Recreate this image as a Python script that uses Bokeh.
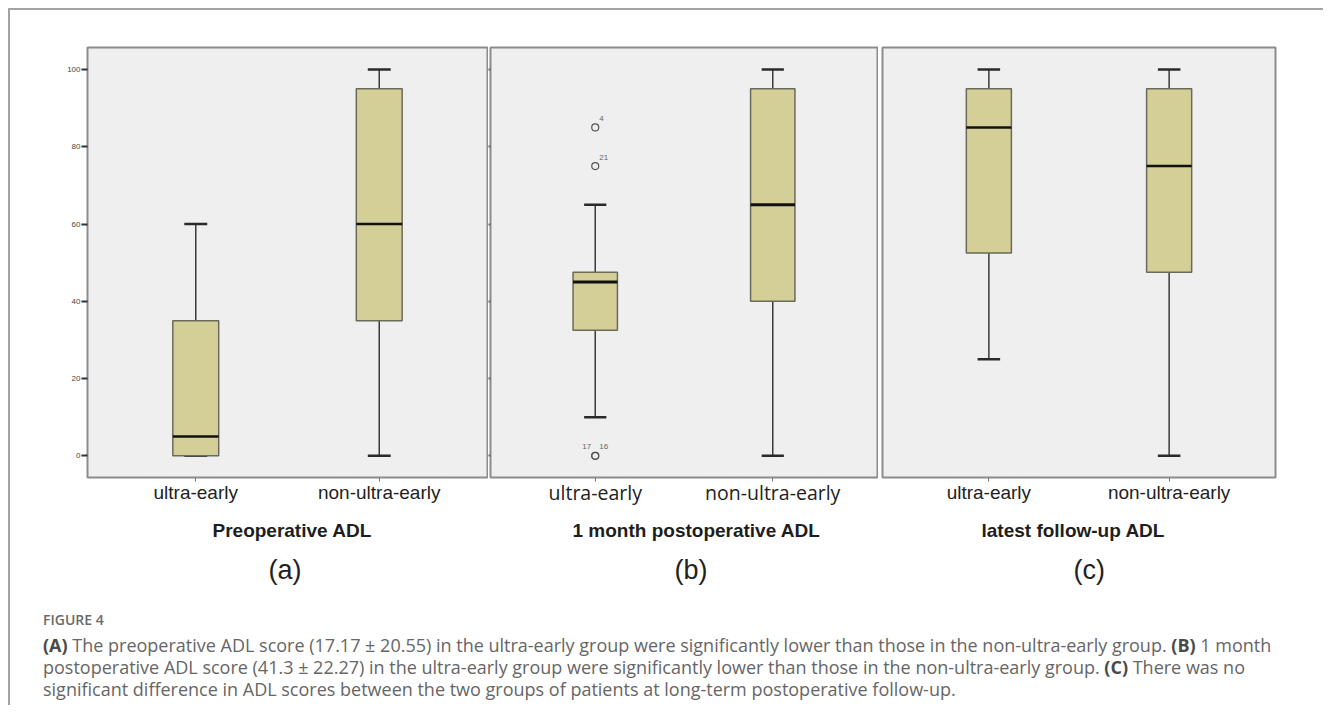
from bokeh.plotting import figure
from bokeh.models import Range1d, FactorRange, FixedTicker, Title, Div, ColumnDataSource
from bokeh.layouts import row, column
from bokeh.transform import dodge
from bokeh.embed import file_html
from bokeh.resources import INLINE

# ---------------- data ----------------
groups = ["ultra-early", "non-ultra-early"]
panel_titles = ["Preoperative ADL", "1 month postoperative ADL", "latest follow-up ADL"]
panel_letters = ["(a)", "(b)", "(c)"]

# five-number summaries: [ultra-early, non-ultra-early]
pre_low = [0, 0]
pre_q1 = [0, 35]
pre_med = [5, 60]
pre_q3 = [35, 95]
pre_high = [60, 100]

m1_low = [10, 0]
m1_q1 = [32.5, 40]
m1_med = [45, 65]
m1_q3 = [47.5, 95]
m1_high = [65, 100]

last_low = [25, 0]
last_q1 = [52.5, 47.5]
last_med = [85, 75]
last_q3 = [95, 95]
last_high = [100, 100]

m1_outlier_group = ["ultra-early", "ultra-early", "ultra-early", "ultra-early"]
m1_outlier_value = [85, 75, 0, 0]
m1_outlier_case = ["4", "21", "17", "16"]

y_ticks = [0, 20, 40, 60, 80, 100]

caption_head = "FIGURE 4"
caption_lines = [
    [("(A)", True), (" The preoperative ADL score (17.17 ± 20.55) in the ultra-early group were significantly lower than those in the non-ultra-early group. ", False), ("(B)", True), (" 1 month", False)],
    [("postoperative ADL score (41.3 ± 22.27) in the ultra-early group were significantly lower than those in the non-ultra-early group. ", False), ("(C)", True), (" There was no", False)],
    [("significant difference in ADL scores between the two groups of patients at long-term postoperative follow-up.", False)],
]

BOX_FILL = "#d3cf97"
FRAME_BG = "#efefef"


def make_panel(idx, low, q1, med, q3, high, width, bl, br, yaxis_mode,
               tick_font, tick_size, median_w, lab_standoff,
               name_offset, name_standoff, letter_offset, letter_standoff):
    p = figure(x_range=FactorRange(factors=groups, range_padding=0.09,
                                   range_padding_units="absolute"),
               y_range=Range1d(-5.6, 105.7),
               width=width, height=590,
               min_border_left=bl, min_border_right=br,
               min_border_top=37, min_border_bottom=123,
               output_backend="svg", toolbar_location=None,
               background_fill_color=FRAME_BG, border_fill_color="white",
               outline_line_color="#8c8c8c", outline_line_width=2)
    p.grid.visible = False

    # y axis
    p.yaxis.ticker = FixedTicker(ticks=y_ticks)
    p.yaxis.axis_line_color = None
    p.yaxis.minor_tick_line_color = None
    if yaxis_mode == "full":
        p.yaxis.major_tick_out = 6
        p.yaxis.major_tick_in = 0
        p.yaxis.major_tick_line_width = 2
        p.yaxis.major_tick_line_color = "#333333"
        p.yaxis.major_label_standoff = 1
        p.yaxis.major_label_text_font = "Liberation Sans"
        p.yaxis.major_label_text_font_size = "8px"
        p.yaxis.major_label_text_color = "#444444"
    elif yaxis_mode == "ticks":
        p.yaxis.major_tick_out = 2
        p.yaxis.major_tick_in = 0
        p.yaxis.major_tick_line_width = 2
        p.yaxis.major_tick_line_color = "#666666"
        p.yaxis.major_label_standoff = 0
        p.yaxis.major_label_overrides = {t: "" for t in y_ticks}
    else:
        p.yaxis.visible = False

    # x axis
    p.xaxis.axis_line_color = None
    p.xaxis.major_tick_out = 4
    p.xaxis.major_tick_in = 0
    p.xaxis.major_tick_line_color = "#777777"
    p.xaxis.major_label_standoff = lab_standoff
    p.xaxis.major_label_text_font = tick_font
    p.xaxis.major_label_text_font_size = tick_size
    p.xaxis.major_label_text_color = "#222222"

    p.add_layout(Title(text=panel_titles[idx], align="left", offset=name_offset,
                       text_font="Liberation Sans", text_font_size="19px",
                       text_font_style="bold", text_color="#1e1e1e",
                       standoff=name_standoff), "below")
    p.add_layout(Title(text=panel_letters[idx], align="left", offset=letter_offset,
                       text_font="Liberation Sans", text_font_size="27px",
                       text_font_style="normal", text_color="#222222",
                       standoff=letter_standoff), "below")

    src = ColumnDataSource(dict(g=groups, low=low, q1=q1, med=med, q3=q3, high=high))
    wcol = "#3a3a3a"
    p.segment(x0="g", y0="q3", x1="g", y1="high", source=src, line_color=wcol, line_width=1.5)
    p.segment(x0="g", y0="low", x1="g", y1="q1", source=src, line_color=wcol, line_width=1.5)
    p.segment(x0=dodge("g", -0.0625, range=p.x_range), y0="high",
              x1=dodge("g", 0.0625, range=p.x_range), y1="high",
              source=src, line_color="#2a2a2a", line_width=2.5)
    p.segment(x0=dodge("g", -0.0625, range=p.x_range), y0="low",
              x1=dodge("g", 0.0625, range=p.x_range), y1="low",
              source=src, line_color="#2a2a2a", line_width=2.5)
    p.vbar(x="g", top="q3", bottom="q1", width=0.25, source=src,
           fill_color=BOX_FILL, line_color="#6a6a5c", line_width=1.5)
    p.segment(x0=dodge("g", -0.125, range=p.x_range), y0="med",
              x1=dodge("g", 0.125, range=p.x_range), y1="med",
              source=src, line_color="#111111", line_width=median_w)
    return p


pa = make_panel(0, pre_low, pre_q1, pre_med, pre_q3, pre_high, 478, 77, 1, "full",
                "Liberation Sans", "19px", 2.5, 0, 125, 24, 181, 1)
pb = make_panel(1, m1_low, m1_q1, m1_med, m1_q3, m1_high, 390, 2, 1, "ticks",
                "Open Sans", "19.5px", 3, -3, 82, 18, 184, 7)
pc = make_panel(2, last_low, last_q1, last_med, last_q3, last_high, 421, 4, 24, "none",
                "Liberation Sans", "19px", 2.5, 0, 99, 24, 191, 1)

# outliers in panel (b)
x_off, align = [], []
seen = {}
for v in m1_outlier_value:
    n = seen.get(v, 0)
    dup = m1_outlier_value.count(v) > 1
    if dup and n == 0:
        x_off.append(-4)
        align.append("right")
    else:
        x_off.append(4)
        align.append("left")
    seen[v] = n + 1
osrc = ColumnDataSource(dict(g=m1_outlier_group, v=m1_outlier_value, c=m1_outlier_case,
                             xo=x_off, al=align))
pb.scatter(x="g", y="v", source=osrc, marker="circle", size=7, fill_color=None,
           line_color="#555555", line_width=1.2)
pb.text(x="g", y="v", text="c", source=osrc, x_offset="xo", y_offset=-9,
        text_align="al", text_baseline="middle", text_font_size="8px",
        text_color="#666666")

# caption
parts = []
for line in caption_lines:
    s = ""
    for t, b in line:
        if b:
            s += '<b style="font-weight:700;color:#4a4a4a">' + t + "</b>"
        else:
            s += t
    parts.append(s)
html = ('<div style="font-family:\'Open Sans\';color:#666666;padding-left:33px;padding-top:9px;white-space:nowrap">'
        '<div style="font-size:14px;font-weight:600;line-height:22px;color:#6a6a6a">' + caption_head + '</div>'
        '<div style="font-size:18px;line-height:22px;margin-top:3px">' + "<br>".join(parts) + '</div></div>')
cap = Div(text=html, width=1313, height=105, margin=(0, 0, 0, 0))

layout = column(row(pa, pb, pc, spacing=0), cap, spacing=0, margin=(8, 0, 0, 8),
                styles={"border-top": "2px solid #a3a3a3", "border-left": "2px solid #a3a3a3"})

open("out.html", "w").write(file_html(layout, INLINE))
